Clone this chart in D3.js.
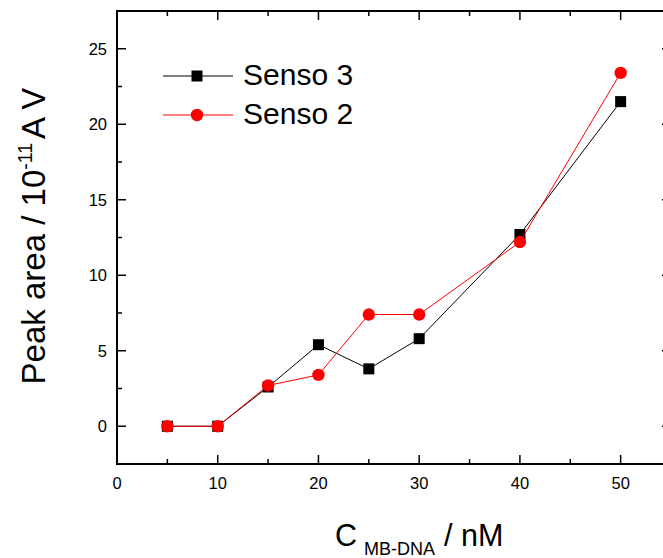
<!DOCTYPE html>
<html>
<head>
<meta charset="utf-8">
<script src="https://cdn.jsdelivr.net/npm/d3@7"></script>
<style>
  html, body { margin: 0; padding: 0; background: #fff; }
  svg { display: block; font-family: Arial, "Liberation Sans", sans-serif; }
</style>
</head>
<body>
<svg id="chart" width="663" height="558"></svg>
<script>
// Peak area vs. MB-DNA concentration for two sensors
const concentrations = [5, 10, 15, 20, 25, 30, 40, 50];
const senso3 = [0, 0, 2.6, 5.4, 3.8, 5.8, 12.7, 21.5];
const senso2 = [0, 0, 2.7, 3.4, 7.4, 7.4, 12.2, 23.4];
const xTicks = [0, 10, 20, 30, 40, 50];
const yTicks = [0, 5, 10, 15, 20, 25];
const seriesNames = ["Senso 3", "Senso 2"];

(function draw() {
  const svg = d3.select("#chart");
  const pl = 117, pt = 11, pr = 671, pb = 464;

  const x = d3.scaleLinear().domain([0, 55]).range([pl, pr]);
  const y = d3.scaleLinear().domain([-2.5, 27.5]).range([pb, pt]);

  const g = svg.append("g");

  // Frame
  g.append("rect")
    .attr("x", pl).attr("y", pt)
    .attr("width", pr - pl).attr("height", pb - pt)
    .attr("fill", "none").attr("stroke", "#000").attr("stroke-width", 2);

  // Major + minor ticks, drawn inward on all four sides
  const xMinor = d3.range(5, 55, 10);
  const yMinor = d3.range(-2.5, 27.6, 5);
  const tickLine = (x1, y1, x2, y2) =>
    g.append("line").attr("x1", x1).attr("y1", y1).attr("x2", x2).attr("y2", y2)
      .attr("stroke", "#000").attr("stroke-width", 1.5);

  xTicks.forEach(v => { tickLine(x(v), pb, x(v), pb - 9); tickLine(x(v), pt, x(v), pt + 9); });
  xMinor.forEach(v => { tickLine(x(v), pb, x(v), pb - 5); tickLine(x(v), pt, x(v), pt + 5); });
  yTicks.forEach(v => { tickLine(pl, y(v), pl + 9, y(v)); tickLine(pr, y(v), pr - 9, y(v)); });
  yMinor.forEach(v => { tickLine(pl, y(v), pl + 5, y(v)); tickLine(pr, y(v), pr - 5, y(v)); });

  // Tick labels
  g.selectAll(".xl").data(xTicks).enter().append("text")
    .attr("x", d => x(d)).attr("y", 489)
    .attr("text-anchor", "middle").attr("font-size", 16.5).text(d => d);
  g.selectAll(".yl").data(yTicks).enter().append("text")
    .attr("x", 107).attr("y", d => y(d) + 6)
    .attr("text-anchor", "end").attr("font-size", 16.5).text(d => d);

  // Axis titles
  const xt = g.append("text").attr("x", 335).attr("y", 546).attr("font-size", 30.5);
  xt.append("tspan").text("C");
  xt.append("tspan").attr("font-size", 18).attr("dy", 8.5).attr("dx", 7).text("MB-DNA");
  xt.append("tspan").attr("dy", -8.5).attr("dx", 9).text("/ nM");

  const yt = g.append("text")
    .attr("transform", "translate(45,236) rotate(-90)")
    .attr("text-anchor", "middle").attr("font-size", 33);
  yt.append("tspan").text("Peak area / 10");
  yt.append("tspan").attr("font-size", 19.5).attr("dy", -13).text("-11");
  yt.append("tspan").attr("dy", 13).attr("dx", 4).text("A V");

  // Series
  const line = d3.line().x(d => x(d[0])).y(d => y(d[1]));
  const s3 = concentrations.map((c, i) => [c, senso3[i]]);
  const s2 = concentrations.map((c, i) => [c, senso2[i]]);

  g.append("path").datum(s3).attr("d", line).attr("fill", "none").attr("stroke", "#000").attr("stroke-width", 1);
  g.selectAll(".sq").data(s3).enter().append("rect")
    .attr("x", d => x(d[0]) - 5.5).attr("y", d => y(d[1]) - 5.5)
    .attr("width", 11).attr("height", 11).attr("fill", "#000");

  g.append("path").datum(s2).attr("d", line).attr("fill", "none").attr("stroke", "#ff0000").attr("stroke-width", 1);
  g.selectAll(".ci").data(s2).enter().append("circle")
    .attr("cx", d => x(d[0])).attr("cy", d => y(d[1]))
    .attr("r", 6.2).attr("fill", "#ff0000");

  // Legend
  const legend = g.append("g");
  [[seriesNames[0], "#000", "square", 76], [seriesNames[1], "#ff0000", "circle", 115]].forEach(([name, col, shape, ly]) => {
    legend.append("line").attr("x1", 163).attr("x2", 233).attr("y1", ly).attr("y2", ly)
      .attr("stroke", col).attr("stroke-width", 1);
    if (shape === "square") {
      legend.append("rect").attr("x", 191.5).attr("y", ly - 5.5).attr("width", 11).attr("height", 11).attr("fill", col);
    } else {
      legend.append("circle").attr("cx", 197).attr("cy", ly).attr("r", 6.2).attr("fill", col);
    }
    legend.append("text").attr("x", 243).attr("y", ly + 9).attr("font-size", 30).text(name);
  });
})();
</script>
</body>
</html>
